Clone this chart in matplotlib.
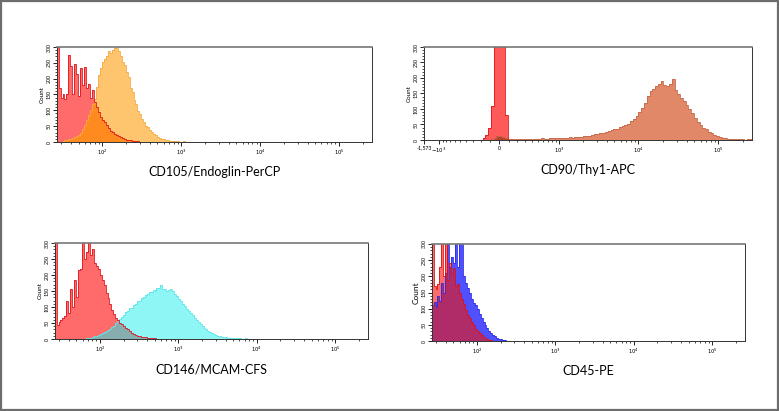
import numpy as np
import matplotlib.pyplot as plt
from matplotlib.patches import Rectangle
from matplotlib.ticker import FixedLocator, NullFormatter

plt.rcParams['font.family'] = ['Lato', 'DejaVu Sans']

# log panels: bins in log10 units, shared by CD105, CD146 and CD45
LOG_START = 1.42
LOG_STEP = 0.025

# CD105 panel
cd105_iso = [310, 170, 140, 150, 135, 150, 275, 240, 150, 245, 215, 145, 235, 180, 236, 170,
             182, 140, 165, 125, 110, 95, 80, 70, 62, 55, 45, 36, 32, 26, 22, 18, 15, 12, 9, 7,
             6, 5, 4, 3, 2, 2, 1, 1]
cd105 = [0, 0, 0, 3, 5, 6, 8, 10, 12, 15, 18, 22, 30, 40, 55, 70, 85, 100, 120, 135, 175, 210,
         235, 252, 262, 270, 286, 280, 292, 298, 305, 288, 270, 252, 244, 222, 205, 172, 158, 134,
         120, 98, 88, 72, 64, 52, 47, 38, 33, 26, 21, 16, 13, 9, 8, 6, 5, 4, 3, 3, 2, 2, 1, 1, 2,
         1, 1, 0]

# CD146 panel
cd146_iso = [310, 45, 52, 58, 65, 72, 120, 80, 157, 100, 184, 130, 215, 220, 310, 250, 271, 310,
             262, 280, 239, 228, 218, 199, 185, 168, 145, 128, 108, 92, 78, 66, 58, 50, 46, 40, 34,
             30, 24, 20, 16, 13, 10, 8, 7, 6, 5, 4, 4, 3, 2, 2, 1, 1]
cd146 = [0, 0, 0, 0, 0, 0, 0, 0, 0, 0, 0, 0, 0, 0, 0, 0, 2, 3, 4, 6, 8, 10, 12, 15, 18, 22, 26,
         28, 32, 36, 42, 50, 56, 62, 70, 74, 84, 86, 96, 98, 106, 108, 118, 120, 128, 130, 138,
         140, 148, 146, 152, 150, 158, 160, 168, 156, 156, 150, 152, 155, 150, 140, 134, 124, 120,
         108, 104, 94, 88, 80, 74, 66, 60, 54, 46, 40, 34, 30, 26, 22, 18, 15, 12, 10, 8, 7, 6, 5,
         4, 4, 3, 3, 2, 2, 2, 1, 1, 2, 1, 1, 1, 1, 1, 1, 0]

# CD45 panel
cd45_iso = [310, 170, 160, 175, 230, 310, 200, 310, 190, 240, 210, 225, 170, 175, 150, 130, 115,
            95, 80, 70, 58, 48, 38, 30, 24, 18, 12, 8, 5, 3, 2, 1, 0]
cd45 = [110, 120, 105, 140, 125, 180, 150, 210, 310, 230, 260, 240, 310, 230, 310, 310, 200, 180,
        165, 150, 130, 118, 110, 100, 82, 70, 60, 50, 40, 32, 25, 18, 14, 10, 7, 5, 3, 2, 1, 1, 0]

# CD90 panel: biexponential axis, bins in asinh(x / BIEX_W) units
BIEX_W = 366
BIEX_START = -2.16
BIEX_STEP = 0.08
cd90_iso = [0, 0, 0, 0, 0, 0, 0, 0, 0, 0, 0, 0, 0, 0, 0, 0, 0, 0, 0, 0, 0, 6, 15, 40, 110, 600,
            900, 900, 500, 80]
cd90 = [0, 0, 0, 0, 0, 0, 0, 0, 0, 0, 0, 0, 0, 0, 0, 0, 0, 0, 0, 0, 0, 0, 0, 0, 2, 8, 12, 14,
        10, 5, 3, 2, 3, 2, 3, 4, 3, 3, 4, 3, 4, 3, 5, 4, 4, 5, 6, 5, 6, 7, 6, 8, 9, 8, 10, 11, 10,
        12, 14, 13, 16, 18, 20, 21, 24, 26, 28, 31, 35, 37, 41, 44, 48, 53, 60, 68, 78, 90, 104,
        118, 142, 158, 166, 175, 182, 190, 178, 174, 182, 196, 160, 148, 136, 126, 112, 100, 86,
        70, 58, 48, 40, 34, 27, 21, 16, 12, 9, 7, 5, 4, 3, 3, 2, 2, 2, 1, 2, 3]

titles = ["CD105/Endoglin-PerCP", "CD90/Thy1-APC", "CD146/MCAM-CFS", "CD45-PE"]

W, H = 779, 411
fig = plt.figure(figsize=(W / 100, H / 100), dpi=100)


def box(l, t, r, b):
    return [l / W, 1 - b / H, (r - l) / W, (b - t) / H]


def pad(a, n):
    return np.pad(np.array(a, float), (0, n - len(a)))


def draw_pair(ax, edges, iso, stain, iso_fill, stain_fill, both_fill, iso_line, stain_line):
    n = len(edges) - 1
    a = pad(iso, n)
    b = pad(stain, n)
    ax.stairs(b, edges, fill=True, color=stain_fill, lw=0)
    ax.stairs(a, edges, fill=True, color=iso_fill, lw=0)
    ax.stairs(np.minimum(a, b), edges, fill=True, color=both_fill, lw=0)
    ax.stairs(b, edges, color=stain_line, lw=0.6)
    ax.stairs(a, edges, color=iso_line, lw=0.6)


def style(ax, count_size=4.5):
    ax.set_ylim(0, 300)
    ax.set_yticks(range(0, 301, 50))
    ax.set_yticklabels([str(v) for v in range(0, 301, 50)], rotation=90, va='center', fontsize=3.8)
    ax.yaxis.set_minor_locator(FixedLocator(range(0, 301, 10)))
    ax.tick_params(which='major', length=3, width=0.6, pad=1, labelsize=3.8)
    ax.tick_params(which='minor', length=1.6, width=0.5)
    ax.set_ylabel("Count", fontsize=count_size, labelpad=1)
    for s in ax.spines.values():
        s.set_color('#333333')
        s.set_linewidth(0.7)
    ax.spines['top'].set_color('#777777')
    ax.spines['top'].set_linewidth(1.2)


def log_axis(ax):
    ax.set_xscale('log')
    ax.set_xlim(10 ** 1.425, 262144)
    ax.xaxis.set_major_locator(FixedLocator([1e2, 1e3, 1e4, 1e5]))
    ax.set_xticklabels(["$10^{2}$", "$10^{3}$", "$10^{4}$", "$10^{5}$"])
    minor = [k * 10 ** d for d in range(1, 6) for k in range(2, 10)]
    ax.xaxis.set_minor_locator(FixedLocator(minor))
    ax.xaxis.set_minor_formatter(NullFormatter())


log_edges = 10 ** (LOG_START + LOG_STEP * np.arange(len(cd146) + 1))

# CD105
ax1 = fig.add_axes(box(57, 47, 372, 142))
draw_pair(ax1, log_edges[:len(cd105) + 1], cd105_iso, cd105,
          '#ff6b6b', '#ffc56e', '#ff8a20', '#e0141b', '#f5a94a')
log_axis(ax1)
style(ax1)

# CD90
ax2 = fig.add_axes(box(424, 47, 752, 140))
biex_edges = BIEX_W * np.sinh(BIEX_START + BIEX_STEP * np.arange(len(cd90) + 1))
draw_pair(ax2, biex_edges, cd90_iso, cd90,
          '#ff5a5a', '#e08868', '#b8402e', '#e01818', '#c86a4c')
ax2.set_xscale('function', functions=(lambda x: np.arcsinh(x / BIEX_W),
                                      lambda t: BIEX_W * np.sinh(t)))
ax2.set_xlim(-1573, 262144)
ax2.xaxis.set_major_locator(FixedLocator([-1573, -1000, 0, 1e3, 1e4, 1e5]))
ax2.set_xticklabels(["-1,573", "$-10^{3}$", "0", "$10^{3}$", "$10^{4}$", "$10^{5}$"])
minor2 = ([-k * 100 for k in range(1, 10)] + [k * 100 for k in range(1, 10)]
          + [k * 10 ** d for d in range(3, 6) for k in range(2, 10)])
ax2.xaxis.set_minor_locator(FixedLocator([m for m in minor2 if m < 262144]))
ax2.xaxis.set_minor_formatter(NullFormatter())
style(ax2)

# CD146
ax3 = fig.add_axes(box(55, 243, 368, 339))
draw_pair(ax3, log_edges, cd146_iso, cd146,
          '#ff6b6b', '#8ff6f6', '#86aeae', '#e0141b', '#5ee6ea')
log_axis(ax3)
style(ax3)

# CD45
ax4 = fig.add_axes(box(432, 244, 745, 341))
draw_pair(ax4, log_edges[:len(cd45) + 1], cd45_iso, cd45,
          '#ff6a6a', '#5050ff', '#b02c68', '#e01010', '#2c2ce8')
log_axis(ax4)
style(ax4, count_size=6)

for ax, t in zip([ax1, ax2, ax3, ax4], titles):
    p = ax.get_position()
    fig.text(p.x0 + p.width / 2, p.y0 - 30 / H, t, ha='center', va='center', fontsize=9)

fig.patches.append(Rectangle((1 / W, 1 / H), 1 - 2.5 / W, 1 - 2.5 / H, transform=fig.transFigure,
                             fill=False, ec='#6d6d6d', lw=1.6))

fig.savefig('out.png', dpi=100)
